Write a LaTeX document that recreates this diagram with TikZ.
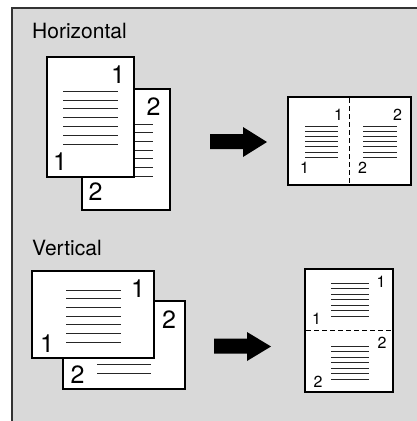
\documentclass[tikz,border=0pt]{standalone}
\usepackage{fontspec}
\setmainfont{TeX Gyre Heros}
\definecolor{panelgray}{HTML}{D9D9D9}
\begin{document}
\begin{tikzpicture}[x=1pt,y=-1pt,line join=miter,
		page/.style={fill=white,draw=black,line width=1.3pt},
		sheet/.style={fill=white,draw=black,line width=2pt},
		fold/.style={draw=black,line width=1.3pt,dash pattern=on 5pt off 3pt},
		txt/.style={line width=0.9pt,draw=black!85},
		big/.style={inner sep=0pt,anchor=base,font=\fontsize{25}{25}\selectfont},
		small/.style={inner sep=0pt,anchor=base,font=\fontsize{16}{16}\selectfont},
		title/.style={inner sep=0pt,anchor=base west,font=\fontsize{21}{21}\selectfont}]
	\useasboundingbox (0,0) rectangle (417,421);
	\fill[panelgray] (12,8) rectangle (417,421);
	\draw[line width=1.3pt,black!80] (12,421) -- (12,8) -- (417,8);
	
	% Horizontal
	\node[title] (hlabel) at (32,38) {Horizontal};
	\filldraw[page] (82,89) rectangle (170,210);
	\foreach \y in {0,...,6}
		\draw[txt] (134,124+8.7*\y) -- (153,124+8.7*\y);
	\node[big] (h2a) at (153.5,115) {2};
	\node[big] (h2b) at (95.5,200) {2};
	\filldraw[page] (47,57) rectangle (134,177);
	\foreach \y in {0,...,6}
		\draw[txt] (63,91.3+8.8*\y) -- (118,91.3+8.8*\y);
	\node[big] (h1a) at (118,83) {1};
	\node[big] (h1b) at (60,170) {1};
	
	\fill[black] (210,134) -- (243,134) -- (243,127) -- (267,142) -- (243,157) -- (243,149) -- (210,149) -- cycle;
	
	\filldraw[sheet] (288,97) rectangle (411,185);
	\draw[fold] (349.5,98) -- (349.5,184);
	\foreach \y in {0,...,6} {
		\draw[txt] (305,126+5.2*\y) -- (338,126+5.2*\y);
		\draw[txt] (363,126+5.2*\y) -- (397,126+5.2*\y);
	}
	\node[small] (ho1a) at (338.5,120) {1};
	\node[small] (ho1b) at (304.5,173) {1};
	\node[small] (ho2a) at (397.5,120) {2};
	\node[small] (ho2b) at (362.5,173) {2};
	
	% Vertical
	\node[title] (vlabel) at (32,255) {Vertical};
	\filldraw[page] (63,301) rectangle (185,389);
	\draw[txt] (97,364) -- (151,364);
	\draw[txt] (97,373) -- (151,373);
	\node[big] (v2a) at (169,328) {2};
	\node[big] (v2b) at (77.5,383) {2};
	\filldraw[page] (32,271) rectangle (154,358);
	\foreach \y in {0,...,6}
		\draw[txt] (66,290+8.7*\y) -- (121,290+8.7*\y);
	\node[big] (v1a) at (138,297) {1};
	\node[big] (v1b) at (47,352) {1};
	
	\fill[black] (214,338.5) -- (247,338.5) -- (247,332) -- (271,346.5) -- (247,361) -- (247,353.5) -- (214,353.5) -- cycle;
	
	\filldraw[sheet] (305,269) rectangle (393,392);
	\draw[fold] (306,330.5) -- (392,330.5);
	\foreach \y in {0,...,6} {
		\draw[txt] (331,283+5.5*\y) -- (369,283+5.5*\y);
		\draw[txt] (331,346+5.5*\y) -- (369,346+5.5*\y);
	}
	\node[small] (vo1a) at (381,287) {1};
	\node[small] (vo1b) at (316.5,324) {1};
	\node[small] (vo2a) at (382,348) {2};
	\node[small] (vo2b) at (318,387) {2};
\end{tikzpicture}
\end{document}
